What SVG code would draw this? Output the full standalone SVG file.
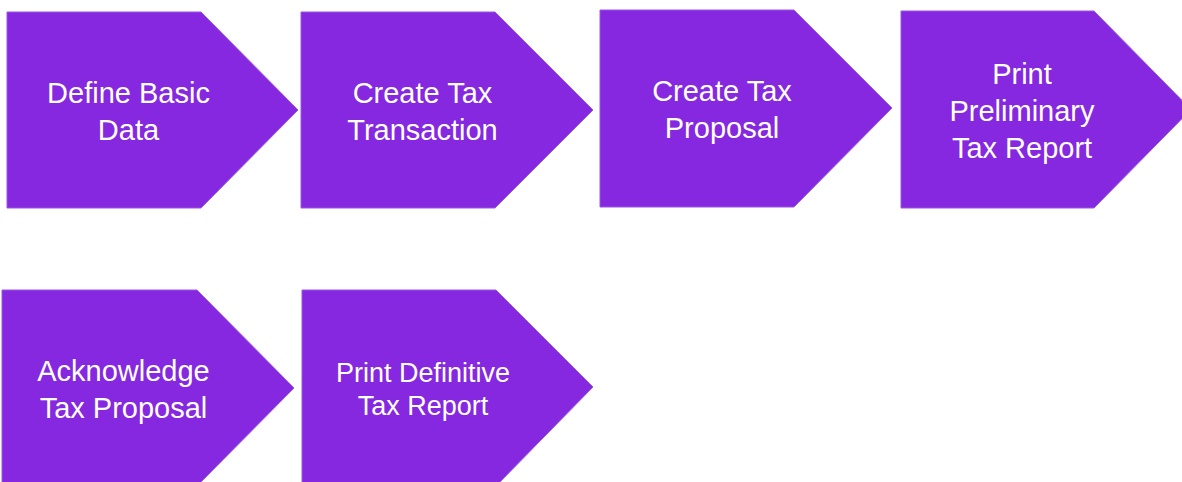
<svg xmlns="http://www.w3.org/2000/svg" width="1182" height="482" viewBox="0 0 1182 482">
<style>
.s{fill:#8528e0;stroke:#9a55e6;stroke-width:1}
.t{font-family:"Liberation Sans",Arial,sans-serif;font-size:29px;fill:#ffffff;text-anchor:middle}
</style>
<rect width="1182" height="482" fill="#ffffff"/>
<g id="connectors"></g>
<g id="n1"><polygon class="s" points="7,12 201,12 298,110 201,208 7,208"/><text class="t" x="128.5" y="103">Define Basic</text><text class="t" x="128.5" y="140">Data</text></g>
<g id="n2"><polygon class="s" points="301,12 495,12 593,110 495,208 301,208"/><text class="t" x="422.5" y="103">Create Tax</text><text class="t" x="422.5" y="140">Transaction</text></g>
<g id="n3"><polygon class="s" points="600,10 794,10 892,108 794,207 600,207"/><text class="t" x="722" y="101">Create Tax</text><text class="t" x="722" y="138">Proposal</text></g>
<g id="n4"><polygon class="s" points="901,11 1094,11 1191,109.5 1094,208 901,208"/><text class="t" x="1022" y="84">Print</text><text class="t" x="1022" y="121">Preliminary</text><text class="t" x="1022" y="158">Tax Report</text></g>
<g id="n5"><polygon class="s" points="2,290 197,290 294,388 197,486 2,486"/><text class="t" x="123.5" y="381">Acknowledge</text><text class="t" x="123.5" y="418">Tax Proposal</text></g>
<g id="n6"><polygon class="s" points="302,290 496,290 593,387 496,486 302,486"/><text class="t" x="423" y="382" style="font-size:27px">Print Definitive</text><text class="t" x="423" y="415" style="font-size:27px">Tax Report</text></g>
</svg>
